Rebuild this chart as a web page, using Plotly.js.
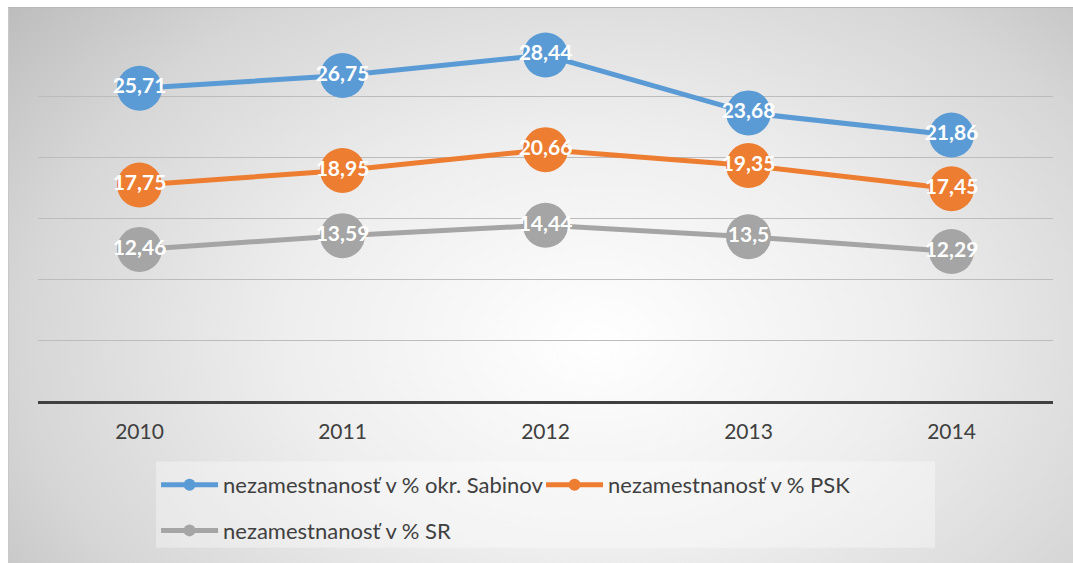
<!DOCTYPE html>
<html>
<head>
<meta charset="utf-8">
<script src="https://cdn.plot.ly/plotly-3.0.1.min.js"></script>
<style>
  html, body { margin: 0; padding: 0; background: #ffffff; }
  #wrap { position: relative; width: 1073px; height: 563px; overflow: hidden; }
  #bg { position: absolute; left: 8px; top: 7px; width: 1065px; height: 556px;
        background: radial-gradient(ellipse 72% 95% at 55% 60%, #ffffff 0%, #eeeeee 40%, #d6d6d6 75%, #bcbcbc 100%);
        border-top: 1px solid #b8b8b8; border-left: 1px solid #c8c8c8; box-sizing: border-box; }
  #chart { position: absolute; left: 0; top: 0; width: 1073px; height: 563px; }
</style>
</head>
<body>
<div id="wrap">
  <div id="bg"></div>
  <div id="chart"></div>
</div>
<script>
const years = ['2010', '2011', '2012', '2013', '2014'];
const sabinov = [25.71, 26.75, 28.44, 23.68, 21.86];
const psk = [17.75, 18.95, 20.66, 19.35, 17.45];
const sr = [12.46, 13.59, 14.44, 13.5, 12.29];
const names = ['nezamestnanosť v % okr. Sabinov', 'nezamestnanosť v % PSK', 'nezamestnanosť v % SR'];
const colors = ['#5B9BD5', '#ED7D31', '#A5A5A5'];

const fmt = v => String(v).replace('.', ',');
const FONT = 'Lato, "Open Sans", sans-serif';

function mk(vals, i, legend) {
  return {
    type: 'scatter', mode: 'lines+markers+text',
    x: years, y: vals, name: names[i],
    text: vals.map(fmt), textposition: 'middle center',
    textfont: { family: FONT, size: 21, color: '#ffffff', weight: 'bold' },
    line: { color: colors[i], width: 5 },
    marker: { color: colors[i], size: 45 },
    legend: legend, cliponaxis: false, hoverinfo: 'x+y'
  };
}

const data = [mk(sr, 2, 'legend2'), mk(psk, 1, 'legend'), mk(sabinov, 0, 'legend')];

const layout = {
  width: 1073, height: 563,
  margin: { l: 38, r: 20, t: 36, b: 159 },
  paper_bgcolor: 'rgba(0,0,0,0)', plot_bgcolor: 'rgba(0,0,0,0)',
  font: { family: FONT, color: '#404040' },
  xaxis: {
    type: 'category', range: [-0.5, 4.5], showgrid: false,
    showline: true, linecolor: '#404040', linewidth: 3,
    ticks: '', tickfont: { size: 21, color: '#404040' }, ticklabelstandoff: 10
  },
  yaxis: {
    range: [0, 30], dtick: 5, showgrid: true, gridcolor: '#bcbcbc', gridwidth: 1.2,
    zeroline: false, showticklabels: false, ticks: ''
  },
  showlegend: true,
  legend: {
    orientation: 'h', x: 0.1163, xanchor: 'left', y: -0.23, yanchor: 'middle',
    bgcolor: 'rgba(0,0,0,0)', font: { size: 22, color: '#404040', family: FONT },
    itemsizing: 'constant', itemwidth: 57, traceorder: 'reversed', entrywidth: 313, entrywidthmode: 'pixels'
  },
  legend2: {
    orientation: 'h', x: 0.1163, xanchor: 'left', y: -0.355, yanchor: 'middle',
    bgcolor: 'rgba(0,0,0,0)', font: { size: 22, color: '#404040', family: FONT },
    itemsizing: 'constant', itemwidth: 57
  },
  shapes: [{
    type: 'rect', xref: 'paper', yref: 'paper', layer: 'below',
    x0: (156 - 38) / 1015, x1: (935 - 38) / 1015,
    y0: (404 - 552) / 368, y1: (404 - 465) / 368,
    fillcolor: 'rgba(255,255,255,0.35)', line: { width: 0 }
  }]
};

Plotly.newPlot('chart', data, layout, { displayModeBar: false, staticPlot: true });
</script>
</body>
</html>
